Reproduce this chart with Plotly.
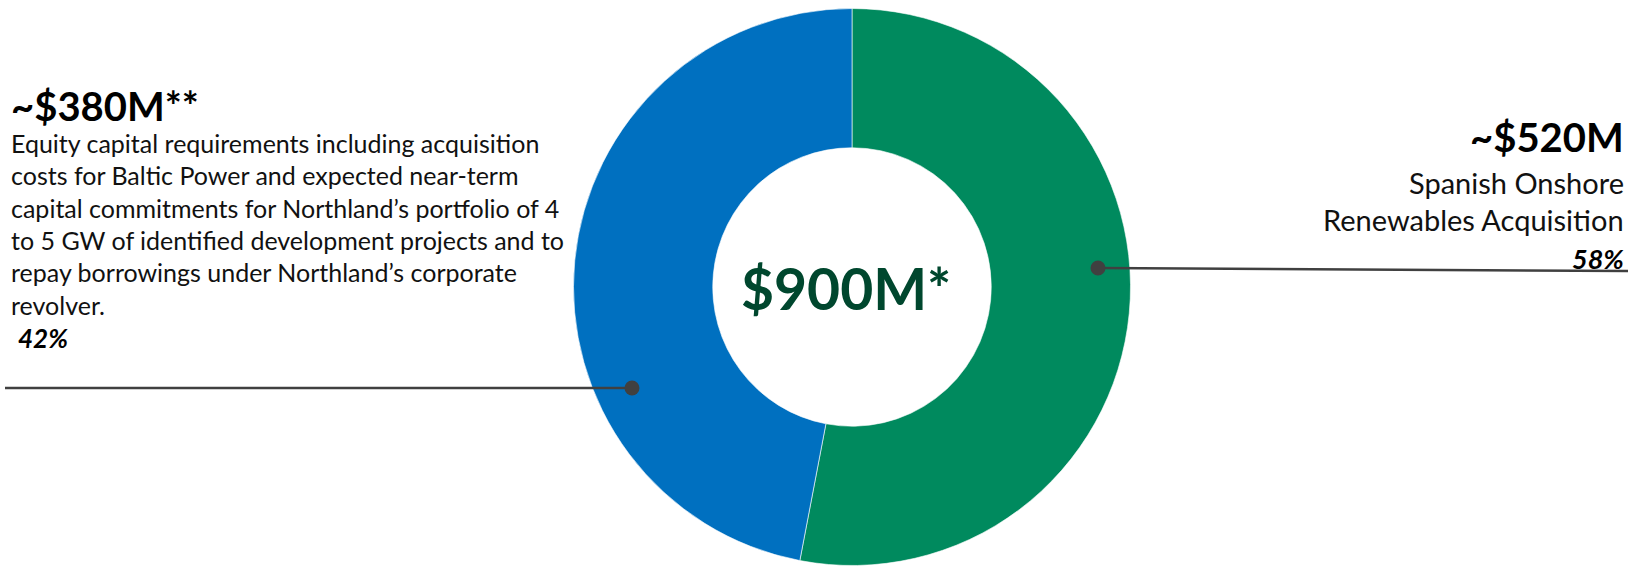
import plotly.graph_objects as go

W, H = 1637, 566

# ---- data ----
segments = ["Spanish Onshore Renewables Acquisition", "Equity capital requirements"]
slice_share = [53, 47]            # angular share as drawn in the picture
slice_colors = ["#008A5E", "#0070C0"]
total_label = "$900M*"

left_amount = "~$380M**"
left_desc = [
    "Equity capital requirements including acquisition",
    "costs for Baltic Power and expected near-term",
    "capital commitments for Northland\u2019s portfolio of 4",
    "to 5 GW of identified development projects and to",
    "repay borrowings under Northland\u2019s corporate",
    "revolver.",
]
left_pct = "42%"

right_amount = "~$520M"
right_desc = ["Spanish Onshore", "Renewables Acquisition"]
right_pct = "58%"

FONT = "Lato"

def px(x):
    return x / W

def py(y):
    return 1 - y / H

cx, cy, R = 852, 287, 278.5

fig = go.Figure(go.Pie(
    labels=segments, values=slice_share, hole=0.5, sort=False,
    direction="clockwise", rotation=0,
    marker=dict(colors=slice_colors, line=dict(color="#ffffff", width=0.6)),
    textinfo="none", hoverinfo="label", showlegend=False,
    domain=dict(x=[px(cx - R), px(cx + R)], y=[py(cy + R), py(cy - R)]),
))

ann = []
# centre total
ann.append(dict(x=px(846), y=py(288), text=f"<b>{total_label}</b>", showarrow=False,
                xanchor="center", yanchor="middle",
                font=dict(family=FONT, size=57, color="#00472E")))
# left block
ann.append(dict(x=px(9), y=py(106), text=f"<b>{left_amount}</b>", showarrow=False,
                xanchor="left", yanchor="middle", font=dict(family=FONT, size=40, color="#000000")))
for i, line in enumerate(left_desc):
    ann.append(dict(x=px(9), y=py(143 + i * 32.3), text=line, showarrow=False,
                    xanchor="left", yanchor="middle", font=dict(family=FONT, size=25, color="#111111")))
ann.append(dict(x=px(16), y=py(338), text=f"<b><i>{left_pct}</i></b>", showarrow=False,
                xanchor="left", yanchor="middle", font=dict(family=FONT, size=26, color="#000000")))
# right block
ann.append(dict(x=px(1626), y=py(137), text=f"<b>{right_amount}</b>", showarrow=False,
                xanchor="right", yanchor="middle", font=dict(family=FONT, size=40, color="#000000")))
for i, line in enumerate(right_desc):
    ann.append(dict(x=px(1626), y=py(182 + i * 37.5), text=line, showarrow=False,
                    xanchor="right", yanchor="middle", font=dict(family=FONT, size=29, color="#111111")))
ann.append(dict(x=px(1626), y=py(258), text=f"<b><i>{right_pct}</i></b>", showarrow=False,
                xanchor="right", yanchor="middle", font=dict(family=FONT, size=27, color="#000000")))

# leader lines and dots
LC = "#404040"
rd = 7.5
shapes = [
    dict(type="line", xref="paper", yref="paper", x0=px(5), y0=py(388), x1=px(632), y1=py(388),
         line=dict(color=LC, width=2.5)),
    dict(type="circle", xref="paper", yref="paper", x0=px(632 - rd), x1=px(632 + rd),
         y0=py(388 + rd), y1=py(388 - rd), fillcolor=LC, line=dict(color=LC, width=0)),
    dict(type="line", xref="paper", yref="paper", x0=px(1098), y0=py(268), x1=px(1628), y1=py(271),
         line=dict(color=LC, width=2.5)),
    dict(type="circle", xref="paper", yref="paper", x0=px(1098 - rd), x1=px(1098 + rd),
         y0=py(268 + rd), y1=py(268 - rd), fillcolor=LC, line=dict(color=LC, width=0)),
]

fig.update_layout(
    width=W, height=H, margin=dict(l=0, r=0, t=0, b=0),
    paper_bgcolor="white", plot_bgcolor="white",
    annotations=ann, shapes=shapes,
)
fig.write_html("out.html", config={"displayModeBar": False},
               post_script="document.body.style.margin='0';document.body.style.overflow='hidden';")
